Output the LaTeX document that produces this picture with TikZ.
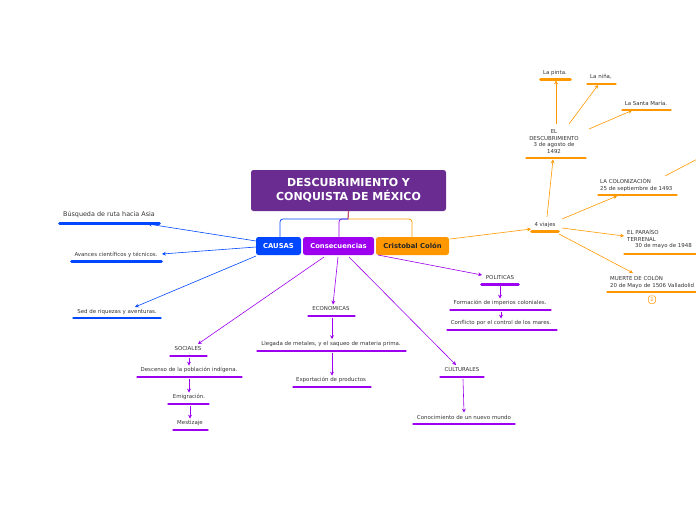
\documentclass[tikz,border=0pt]{standalone}
\usepackage{fontspec}
\setmainfont{DejaVu Sans}
\usetikzlibrary{arrows.meta}
\definecolor{cblue}{HTML}{0047FF}
\definecolor{cpurp}{HTML}{9C00EE}
\definecolor{corg}{HTML}{FF9800}
\definecolor{ctitle}{HTML}{6A2C91}
\definecolor{cstub}{HTML}{C0506A}
\definecolor{ctext}{HTML}{333333}
\begin{document}
\begin{tikzpicture}[x=1pt,y=-1pt,
  lbl/.style={inner sep=0pt, font=\fontsize{5.45}{6.4}\selectfont, text=ctext, align=center},
  olbl/.style={inner sep=0pt, font=\fontsize{5.45}{6.5}\selectfont, text=ctext},
  ul/.style={line width=2.8pt, line cap=round},
  arr/.style={-{Stealth[length=3.8pt,width=3.8pt]}, line width=0.6pt},
  box/.style={rounded corners=2.5pt, minimum height=18pt, inner sep=0pt, font=\fontsize{6.8}{7}\selectfont\bfseries}
]
\useasboundingbox (0,0) rectangle (696,520);
\begin{scope}
\clip (0,0) rectangle (696,520);
% ---- title and main boxes
\node[box, fill=ctitle, text=white, minimum width=195pt, minimum height=41pt, font=\fontsize{11}{14}\selectfont\bfseries, align=center] (title) at (348.5,190.5) {DESCUBRIMIENTO Y\\CONQUISTA DE MÉXICO};
\coordinate (hub) at (348,219);
\draw[corg, line width=0.7pt, rounded corners=3pt] (hub) -| (412,237);
\draw[cpurp, line width=0.7pt, rounded corners=3pt] (hub) -| (339,237);
\draw[cblue, line width=0.7pt, rounded corners=3pt] (hub) -| (280,237);
\draw[cstub, line width=1.2pt] (title.south) -- (hub);
\node[box, fill=cblue, text=white, minimum width=45pt] (causas) at (278.5,246) {CAUSAS};
\node[box, fill=cpurp, text=white, minimum width=71pt] (consec) at (338.5,246) {Consecuencias};
\node[box, fill=corg, text=black!85, minimum width=73pt] (colon) at (412.5,246) {Cristobal Colón};

% ---- CAUSAS
\node[lbl, font=\fontsize{6.4}{7.4}\selectfont] (busq) at (109,215) {Búsqueda de ruta hacia Asia};
\draw[ul, cblue] (59.5,223.5) -- (159.5,223.5);
\node[lbl] (avan) at (116,254.5) {Avances científicos y técnicos.};
\draw[ul, cblue] (71.5,261.5) -- (161.5,261.5);
\node[lbl] (sed) at (117,312) {Sed de riquezas y aventuras.};
\draw[ul, cblue] (73.5,318) -- (160.5,318);
\draw[arr, cblue] (256,241) -- (148,224);
\draw[arr, cblue] (256,247) -- (162,254);
\draw[arr, cblue] (256,256) -- (135,307);

% ---- Consecuencias
\node[lbl] (soc) at (188,348.5) {SOCIALES};
\draw[ul, cpurp] (170.5,356) -- (206.5,356);
\node[lbl] (desc) at (189,370) {Descenso de la población indígena.};
\draw[ul, cpurp] (137.5,377) -- (241.5,377);
\node[lbl] (emig) at (189,397) {Emigración.};
\draw[ul, cpurp] (168.5,404) -- (208.5,404);
\node[lbl] (mest) at (190,423) {Mestizaje};
\draw[ul, cpurp] (173.5,430) -- (207.5,430);
\node[lbl] (econ) at (331,309) {ECONOMICAS};
\draw[ul, cpurp] (308.5,316) -- (354.5,316);
\node[lbl] (lleg) at (331,344) {Llegada de metales, y el saqueo de materia prima.};
\draw[ul, cpurp] (257.5,351) -- (405.5,351);
\node[lbl] (expo) at (331,380) {Exportación de productos};
\draw[ul, cpurp] (293.5,387) -- (370.5,387);
\node[lbl] (polit) at (500,278) {POLITICAS};
\draw[ul, cpurp] (481.5,284.5) -- (518.5,284.5);
\node[lbl] (form) at (500,303) {Formación de imperios coloniales.};
\draw[ul, cpurp] (450.5,310) -- (550.5,310);
\node[lbl] (conf) at (501,323) {Conflicto por el control de los mares.};
\draw[ul, cpurp] (447.5,330) -- (556.5,330);
\node[lbl] (cult) at (462,370) {CULTURALES};
\draw[ul, cpurp] (440.5,377) -- (483.5,377);
\node[lbl] (cono) at (464,417) {Conocimiento de un nuevo mundo};
\draw[ul, cpurp] (413.5,424) -- (514.5,424);
\draw[arr, cpurp] (324,257) -- (198,344);
\draw[arr, cpurp] (189,358) -- (189,365.5);
\draw[arr, cpurp] (189,379) -- (189,392.5);
\draw[arr, cpurp] (190,406) -- (190,418.5);
\draw[arr, cpurp] (338,257) -- (333,304.5);
\draw[arr, cpurp] (332,318) -- (332,339);
\draw[arr, cpurp] (332,353) -- (332,375.5);
\draw[arr, cpurp] (378,255) -- (482,275);
\draw[arr, cpurp] (500,286) -- (500,298.5);
\draw[arr, cpurp] (501,312) -- (501,318.5);
\draw[arr, cpurp] (349,257) -- (456,365);
\draw[arr, cpurp] (463,379) -- (464,412.5);

% ---- Cristobal Colon
\node[olbl] (viaj) at (545,225) {4 viajes};
\draw[ul, corg] (531.5,231.5) -- (558.5,231.5);
\node[olbl, align=center] (descu) at (554,141.5) {EL\\DESCUBRIMIENTO\\3 de agosto de\\1492};
\draw[ul, corg] (526.5,158) -- (585.5,158);
\node[olbl] (pinta) at (555,73) {La pinta.};
\draw[ul, corg] (540.5,79.5) -- (570.5,79.5);
\node[olbl] (nina) at (601,77) {La niña,};
\draw[ul, corg] (587.5,84) -- (615.5,84);
\node[olbl] (santa) at (646,103) {La Santa María.};
\draw[ul, corg] (622.5,110) -- (670.5,110);
\node[olbl, anchor=west, align=left] (coloni) at (600,185) {LA COLONIZACIÓN\\25 de septiembre de 1493};
\draw[ul, corg] (598.5,195) -- (676.5,195);
\node[olbl, anchor=west, align=left] (para) at (627,239.5) {EL PARAÍSO\\TERRENAL\\\hspace*{8pt}30 de mayo de 1948};
\draw[ul, corg] (624.5,254) -- (700,254);
\node[olbl, anchor=west, align=left] (muer) at (610,282) {MUERTE DE COLÓN\\20 de Mayo de 1506 Valladolid};
\draw[ul, corg] (607.5,292) -- (700,292);
\node[draw=corg, rounded corners=1.5pt, line width=0.5pt, inner sep=0.8pt, minimum width=7pt, minimum height=7.5pt, text=corg, font=\fontsize{5}{5}\selectfont] (badge) at (652,299.5) {2};
\coordinate (offc) at (705,155);
\draw[arr, corg] (450,239) -- (531,229);
\draw[arr, corg] (547,217) -- (553,159.5);
\draw[arr, corg] (556,124) -- (556,80.5);
\draw[arr, corg] (569,124) -- (598,85);
\draw[arr, corg] (589,129) -- (632,110.5);
\draw[arr, corg] (562,219) -- (617,196);
\draw[arr, corg] (562,228) -- (624,236);
\draw[arr, corg] (559,234) -- (633,273);
\draw[corg, line width=0.6pt] (665,176) -- (offc);
\end{scope}
\end{tikzpicture}
\end{document}
